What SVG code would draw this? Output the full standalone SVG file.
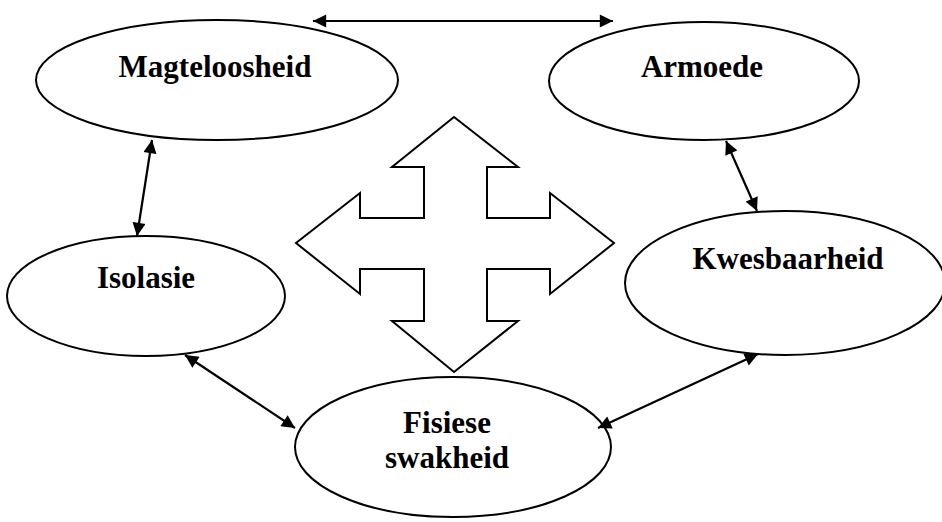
<svg xmlns="http://www.w3.org/2000/svg" width="942" height="522" viewBox="0 0 942 522">
<style>
.node ellipse{fill:#fff;stroke:#000;stroke-width:2}
.lbl{font-family:"Liberation Serif",serif;font-weight:bold;font-size:31px;text-anchor:middle;fill:#000}
.conn line{stroke:#000;stroke-width:2.2;marker-start:url(#ah);marker-end:url(#ah)}
</style>
<defs>
<marker id="ah" viewBox="0 0 10 10" refX="10" refY="5" markerWidth="6.5" markerHeight="6" markerUnits="strokeWidth" orient="auto-start-reverse">
<path d="M0,0 L10,5 L0,10 Z" fill="#000"/>
</marker>
</defs>
<rect width="942" height="522" fill="#fff"/>
<g id="magteloosheid" class="node"><ellipse cx="217" cy="80" rx="181" ry="60"/><text class="lbl" x="215" y="77">Magteloosheid</text></g>
<g id="armoede" class="node"><ellipse cx="704" cy="81" rx="155" ry="59"/><text class="lbl" x="702" y="77">Armoede</text></g>
<g id="isolasie" class="node"><ellipse cx="146" cy="296" rx="139" ry="60"/><text class="lbl" x="146" y="288">Isolasie</text></g>
<g id="kwesbaarheid" class="node"><ellipse cx="785" cy="283" rx="160" ry="72"/><text class="lbl" x="788" y="269">Kwesbaarheid</text></g>
<g id="fisiese" class="node"><ellipse cx="453" cy="447" rx="158" ry="70"/><text class="lbl" x="447" y="433">Fisiese</text><text class="lbl" x="447" y="468">swakheid</text></g>
<g id="cross"><path d="M454,117 L518,167 L487,167 L487,218 L550,218 L550,193 L614,243 L550,294 L550,269 L487,269 L487,321 L518,321 L454,372 L392,321 L424,321 L424,269 L360,269 L360,294 L296,243 L360,193 L360,218 L424,218 L424,167 L392,167 Z" fill="#fff" stroke="#000" stroke-width="2" stroke-linejoin="miter"/></g>
<g id="connectors" class="conn">
<line x1="313" y1="21" x2="613" y2="21"/>
<line x1="152" y1="140" x2="137" y2="236"/>
<line x1="726" y1="141" x2="757" y2="211"/>
<line x1="185" y1="355" x2="295" y2="428"/>
<line x1="758" y1="354" x2="598" y2="428"/>
</g>
</svg>
